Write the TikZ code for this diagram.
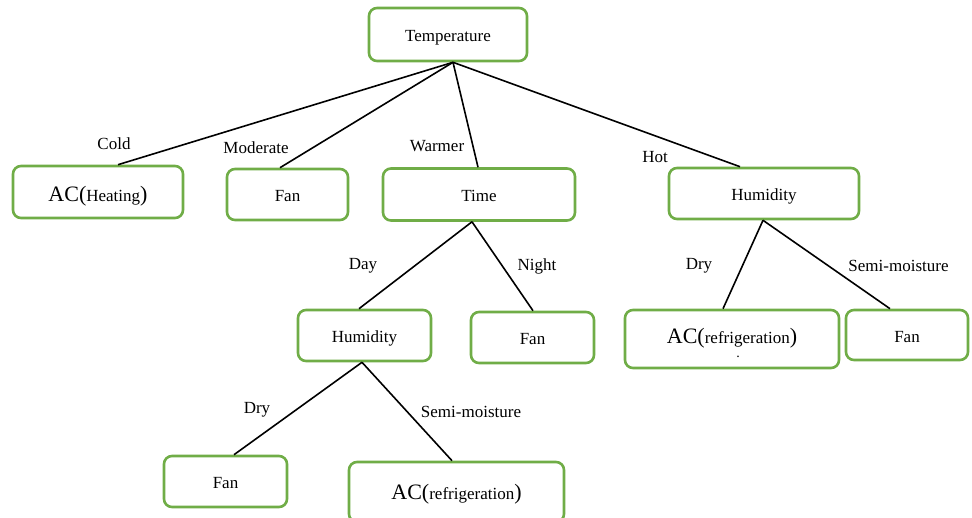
\documentclass[tikz,border=0pt]{standalone}
\usepackage{fontspec}
\setmainfont{Liberation Serif}
\definecolor{boxgreen}{RGB}{112,173,71}
\newcommand\acbig[1]{{\fontsize{22}{24}\selectfont AC(}#1{\fontsize{22}{24}\selectfont )}}
\begin{document}
\begin{tikzpicture}[x=1pt,y=-1pt,
  box/.style={draw=boxgreen, line width=2.6pt, rounded corners=8pt, inner sep=0pt, fill=white,
              font=\fontsize{17}{20}\selectfont, text height=17pt, text depth=3pt},
  edge/.style={line width=1.6pt, black},
  lbl/.style={inner sep=0pt, font=\fontsize{17}{20}\selectfont}]
\useasboundingbox (0,0) rectangle (972,517);
\clip (0,0) rectangle (972,517);
% nodes
\node[box, minimum width=158pt, minimum height=53pt] (temp) at (448,34.5) {Temperature};
\node[box, minimum width=170pt, minimum height=52pt, text height=21pt] (heat) at (98,192) {\acbig{Heating}};
\node[box, minimum width=121pt, minimum height=51pt] (fanA) at (287.5,194.5) {Fan};
\node[box, minimum width=192pt, minimum height=52pt] (time) at (479,194.5) {Time};
\node[box, minimum width=190pt, minimum height=51pt] (humR) at (764,193.5) {Humidity};
\node[box, minimum width=133pt, minimum height=51pt] (humM) at (364.5,335.5) {Humidity};
\node[box, minimum width=123pt, minimum height=51pt] (fanN) at (532.5,337.5) {Fan};
\node[box, minimum width=214pt, minimum height=58pt, text height=12.6pt,
      label={[inner sep=0pt, font=\fontsize{14}{14}\selectfont, xshift=6pt, yshift=-18pt]center:.}]
      (acrR) at (732,339) {\acbig{refrigeration}};
\node[box, minimum width=122pt, minimum height=50pt] (fanR) at (907,335) {Fan};
\node[box, minimum width=123pt, minimum height=51pt] (fanB) at (225.5,481.5) {Fan};
\node[box, minimum width=215pt, minimum height=60pt] (acrB) at (456.5,492) {\acbig{refrigeration}};
% connectors
\draw[edge] ([xshift=5pt]temp.south) -- ([xshift=20pt]heat.north);
\draw[edge] ([xshift=5pt]temp.south) -- ([xshift=-7.5pt]fanA.north);
\draw[edge] ([xshift=5pt]temp.south) -- ([xshift=-1pt]time.north);
\draw[edge] ([xshift=5pt]temp.south) -- ([xshift=-24pt]humR.north);
\draw[edge] ([xshift=-7pt]time.south) -- ([xshift=-5.5pt]humM.north);
\draw[edge] ([xshift=-7pt]time.south) -- ([xshift=0.5pt]fanN.north);
\draw[edge] ([xshift=-1pt]humR.south) -- ([xshift=-9pt]acrR.north);
\draw[edge] ([xshift=-1pt]humR.south) -- ([xshift=-17pt]fanR.north);
\draw[edge] ([xshift=-2.5pt]humM.south) -- ([xshift=8.5pt]fanB.north);
\draw[edge] ([xshift=-2.5pt]humM.south) -- ([xshift=-4.5pt]acrB.north);
% labels
\node[lbl] (lcold) at (114,144) {Cold};
\node[lbl] (lmod) at (256,148) {Moderate};
\node[lbl] (lwarm) at (437,146) {Warmer};
\node[lbl] (lhot) at (655,157) {Hot};
\node[lbl] (lday) at (363,266) {Day};
\node[lbl] (lnight) at (537,266) {Night};
\node[lbl] (ldryR) at (699,266) {Dry};
\node[lbl] (lsemiR) at (898.5,266) {Semi-moisture};
\node[lbl] (ldryB) at (257,410) {Dry};
\node[lbl] (lsemiB) at (471,412) {Semi-moisture};
\end{tikzpicture}
\end{document}
